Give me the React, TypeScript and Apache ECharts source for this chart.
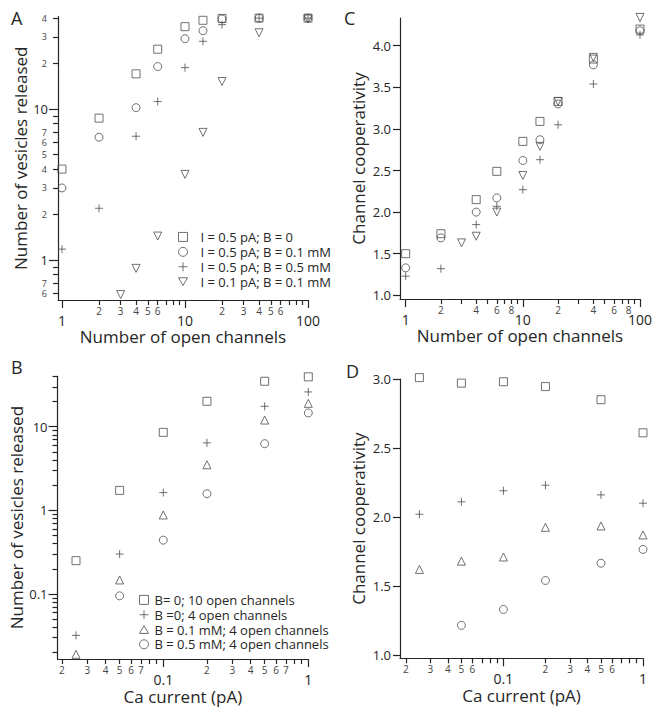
import React, { useEffect, useRef } from 'react';
import * as echarts from 'echarts';

// ---------- Panel A: vesicles released vs number of open channels ----------
const channels = [1, 2, 4, 6, 10, 14, 20, 40, 100];
const channelsTri = [3, 4, 6, 10, 14, 20, 40, 100];
const vesA_I05_B0 = [4.0, 8.7, 17.1, 24.9, 35.1, 38.7, 39.8, 40, 40];
const vesA_I05_B01 = [3.0, 6.5, 10.2, 19.1, 29.2, 33.0, 39.5, 40, 40];
const vesA_I05_B05 = [1.18, 2.2, 6.6, 11.2, 18.8, 28.1, 36.2, 40, 40];
const vesA_I01_B01 = [0.59, 0.88, 1.44, 3.69, 7.0, 15.2, 32.0, 39.5];

// ---------- Panel C: channel cooperativity vs number of open channels ----------
const coopC_I05_B0 = [1.5, 1.74, 2.15, 2.49, 2.85, 3.09, 3.33, 3.84, 4.2];
const coopC_I05_B01 = [1.33, 1.69, 2.0, 2.17, 2.62, 2.87, 3.3, 3.77, 4.18];
const coopC_I05_B05 = [1.23, 1.32, 1.85, 2.07, 2.27, 2.63, 3.05, 3.54, 4.13];
const coopC_I01_B01 = [1.63, 1.71, 2.0, 2.44, 2.79, 3.33, 3.86, 4.34];

// ---------- Panel B: vesicles released vs Ca current ----------
const caCurrent = [0.025, 0.05, 0.1, 0.2, 0.5, 1];
const caCurrentB05 = [0.05, 0.1, 0.2, 0.5, 1];
const vesB_B0_10ch = [0.25, 1.73, 8.55, 20.1, 34.9, 39.4];
const vesB_B0_4ch = [0.032, 0.3, 1.63, 6.4, 17.5, 26];
const vesB_B01_4ch = [0.019, 0.147, 0.88, 3.5, 12, 19];
const vesB_B05_4ch = [0.095, 0.44, 1.58, 6.26, 14.6];

// ---------- Panel D: channel cooperativity vs Ca current ----------
const coopD_B0_10ch = [3.01, 2.97, 2.98, 2.945, 2.85, 2.61];
const coopD_B0_4ch = [2.02, 2.11, 2.19, 2.23, 2.16, 2.1];
const coopD_B01_4ch = [1.62, 1.68, 1.71, 1.925, 1.935, 1.87];
const coopD_B05_4ch = [1.215, 1.33, 1.54, 1.665, 1.765];

// ---------- legends ----------
const namesTop = ['I = 0.5 pA; B = 0', 'I = 0.5 pA; B = 0.1 mM', 'I = 0.5 pA; B = 0.5 mM', 'I = 0.1 pA; B = 0.1 mM'];
const namesBottom = ['B= 0; 10 open channels', 'B =0; 4 open channels', 'B = 0.1 mM; 4 open channels', 'B = 0.5 mM; 4 open channels'];

// ---------- tick values ----------
const chMajor = [1, 10, 100];
const chMinorTicks = [2, 3, 4, 5, 6, 7, 8, 9, 20, 30, 40, 50, 60, 70, 80, 90];
const chMinorLabelsA = [2, 3, 4, 5, 6, 20, 30, 40, 50, 60];
const chMinorLabelsC = [2, 4, 6, 8, 20, 40, 60, 80];
const vesMajorA = [1, 10];
const vesMinorTicksA = [0.6, 0.7, 0.8, 0.9, 2, 3, 4, 5, 6, 7, 8, 9, 20, 30, 40];
const vesMinorLabelsA = [0.6, 0.7, 2, 3, 4, 5, 6, 7, 20, 30, 40];
const coopTicksC = [1.0, 1.5, 2.0, 2.5, 3.0, 3.5, 4.0];
const caMajor = [0.1, 1];
const caMinorTicks = [0.02, 0.03, 0.04, 0.05, 0.06, 0.07, 0.08, 0.09, 0.2, 0.3, 0.4, 0.5, 0.6, 0.7, 0.8, 0.9];
const caMinorLabelsB = [0.02, 0.03, 0.04, 0.05, 0.06, 0.07, 0.2, 0.3, 0.4, 0.5, 0.6, 0.7];
const caMinorLabelsD = [0.02, 0.03, 0.04, 0.05, 0.06, 0.2, 0.3, 0.4, 0.5, 0.6];
const vesMajorB = [0.1, 1, 10];
const vesMinorTicksB = [0.02, 0.03, 0.04, 0.05, 0.06, 0.07, 0.08, 0.09, 0.2, 0.3, 0.4, 0.5, 0.6, 0.7, 0.8, 0.9, 2, 3, 4, 5, 6, 7, 8, 9, 20, 30, 40];
const coopTicksD = [1.0, 1.5, 2.0, 2.5, 3.0];

const INK = '#262626';
const MARK = '#4d4d4d';
const FONT = '"Open Sans", "DejaVu Sans", sans-serif';
const axisLineStyle = { color: INK, width: 1.2 };
const nameStyle = { fontSize: 17, color: INK, fontFamily: FONT };

const SYM = {
  square: 'rect',
  circle: 'circle',
  plus: 'path://M5,0V10M0,5H10',
  down: 'path://M0,0L10,0L5,8.66Z',
  up: 'path://M5,0L10,8.66L0,8.66Z',
};

function majorFmt(v: number) {
  return String(Number(Number(v).toPrecision(6)));
}
function digitFmt(v: number) {
  const e = Math.floor(Math.log10(v) + 1e-9);
  return String(Math.round(v / Math.pow(10, e)));
}

function logX(gridIndex: number, min: number, max: number, major: number[], minorTicks: number[], minorLabels: number[], name: string, nameGap: number) {
  return [
    {
      type: 'log', logBase: 10, gridIndex, position: 'bottom', min, max,
      name, nameLocation: 'middle', nameGap, nameTextStyle: nameStyle,
      axisLine: { show: true, onZero: false, lineStyle: axisLineStyle },
      axisTick: { show: true, length: 8, customValues: major, lineStyle: axisLineStyle },
      axisLabel: { show: true, customValues: major, margin: 13, fontSize: 14, color: INK, fontFamily: FONT, formatter: majorFmt },
      splitLine: { show: false },
    },
    {
      type: 'log', logBase: 10, gridIndex, position: 'bottom', min, max,
      axisLine: { show: false },
      axisTick: { show: true, length: 5, customValues: minorTicks, lineStyle: axisLineStyle },
      axisLabel: { show: true, customValues: minorLabels, margin: 6, fontSize: 10, color: '#444', fontFamily: FONT, formatter: digitFmt },
      splitLine: { show: false },
    },
  ];
}

function logY(gridIndex: number, min: number, max: number, major: number[], minorTicks: number[], minorLabels: number[], name: string, nameGap: number) {
  return [
    {
      type: 'log', logBase: 10, gridIndex, position: 'left', min, max,
      name, nameLocation: 'middle', nameGap, nameTextStyle: nameStyle,
      axisLine: { show: true, onZero: false, lineStyle: axisLineStyle },
      axisTick: { show: true, length: 9, customValues: major, lineStyle: axisLineStyle },
      axisLabel: { show: true, customValues: major, margin: 10, fontSize: 13, color: INK, fontFamily: FONT, formatter: majorFmt },
      splitLine: { show: false },
    },
    {
      type: 'log', logBase: 10, gridIndex, position: 'left', min, max,
      axisLine: { show: false },
      axisTick: { show: true, length: 5, customValues: minorTicks, lineStyle: axisLineStyle },
      axisLabel: { show: true, customValues: minorLabels, margin: 11, fontSize: 9, color: '#444', fontFamily: FONT, formatter: digitFmt },
      splitLine: { show: false },
    },
  ];
}

function valY(gridIndex: number, min: number, max: number, ticks: number[], name: string, nameGap: number) {
  return {
    type: 'value', gridIndex, position: 'left', min, max,
    name, nameLocation: 'middle', nameGap, nameTextStyle: nameStyle,
    axisLine: { show: true, onZero: false, lineStyle: axisLineStyle },
    axisTick: { show: true, length: 7, customValues: ticks, lineStyle: axisLineStyle },
    axisLabel: { show: true, customValues: ticks, margin: 9, fontSize: 13, color: INK, fontFamily: FONT, formatter: (v: number) => Number(v).toFixed(1) },
    splitLine: { show: false },
  };
}

function sc(name: string, xs: number[], ys: number[], symbol: string, xi: number, yi: number, size = 8) {
  return {
    type: 'scatter', name, xAxisIndex: xi, yAxisIndex: yi,
    data: xs.map((x, i) => [x, ys[i]]),
    symbol, symbolSize: size, clip: false, silent: true,
    itemStyle: { color: 'none', borderColor: MARK, borderWidth: 1 },
    emphasis: { disabled: true },
  };
}

export default function App() {
  const ref = useRef<HTMLDivElement>(null);
  useEffect(() => {
    if (!ref.current) return;
    const chart = echarts.init(ref.current, null, { renderer: 'svg' });
    const xAxes = [
      ...logX(0, 0.928, 100, chMajor, chMinorTicks, chMinorLabelsA, 'Number of open channels', 26),
      ...logX(1, 0.895, 100, chMajor, chMinorTicks, chMinorLabelsC, 'Number of open channels', 27),
      ...logX(2, 0.01864, 1, caMajor, caMinorTicks, caMinorLabelsB, 'Ca current (pA)', 29),
      ...logX(3, 0.01815, 1, caMajor, caMinorTicks, caMinorLabelsD, 'Ca current (pA)', 28.5),
    ];
    const yAxes = [
      ...logY(0, 0.543, 41, vesMajorA, vesMinorTicksA, vesMinorLabelsA, 'Number of vesicles released', 26),
      valY(1, 0.9555, 4.333, coopTicksC, 'Channel cooperativity', 33),
      ...logY(2, 0.0167, 40, vesMajorB, vesMinorTicksB, [], 'Number of vesicles released', 26),
      valY(3, 0.976, 3.0, coopTicksD, 'Channel cooperativity', 33),
    ];
    const legendCommon = {
      orient: 'vertical', itemWidth: 9, itemHeight: 9, itemGap: 0, selectedMode: false,
      padding: 0,
      itemStyle: { borderWidth: 1 },
    };
    chart.setOption({
      animation: false,
      textStyle: { fontFamily: FONT },
      grid: [
        { left: 58, top: 16.5, width: 250, height: 283.5 },
        { left: 400, top: 18, width: 243.3, height: 281 },
        { left: 57.5, top: 376.3, width: 250.8, height: 282.7 },
        { left: 400, top: 379, width: 243, height: 279.3 },
      ],
      xAxis: xAxes,
      yAxis: yAxes,
      legend: [
        { ...legendCommon, data: namesTop, left: 176, top: 229.5, textStyle: { fontSize: 13, lineHeight: 14.9, color: INK, fontFamily: FONT, padding: [0, 0, 0, 8] } },
        { ...legendCommon, data: namesBottom, left: 137, top: 592.5, textStyle: { fontSize: 13, lineHeight: 14.8, color: INK, fontFamily: FONT, padding: [0, 0, 0, 1] } },
      ],
      graphic: [
        { type: 'text', x: 11, y: 18, style: { text: 'A', fontSize: 18, fill: INK, fontFamily: FONT, verticalAlign: 'middle' } },
        { type: 'text', x: 344, y: 18, style: { text: 'C', fontSize: 18, fill: INK, fontFamily: FONT, verticalAlign: 'middle' } },
        { type: 'text', x: 11, y: 367, style: { text: 'B', fontSize: 18, fill: INK, fontFamily: FONT, verticalAlign: 'middle' } },
        { type: 'text', x: 346, y: 371, style: { text: 'D', fontSize: 18, fill: INK, fontFamily: FONT, verticalAlign: 'middle' } },
      ],
      series: [
        // A
        sc(namesTop[0], channels, vesA_I05_B0, SYM.square, 0, 0),
        sc(namesTop[1], channels, vesA_I05_B01, SYM.circle, 0, 0),
        sc(namesTop[2], channels, vesA_I05_B05, SYM.plus, 0, 0),
        sc(namesTop[3], channelsTri, vesA_I01_B01, SYM.down, 0, 0),
        // C
        sc(namesTop[0], channels, coopC_I05_B0, SYM.square, 2, 2),
        sc(namesTop[1], channels, coopC_I05_B01, SYM.circle, 2, 2),
        sc(namesTop[2], channels, coopC_I05_B05, SYM.plus, 2, 2),
        sc(namesTop[3], channelsTri, coopC_I01_B01, SYM.down, 2, 2),
        // B
        sc(namesBottom[0], caCurrent, vesB_B0_10ch, SYM.square, 4, 3),
        sc(namesBottom[1], caCurrent, vesB_B0_4ch, SYM.plus, 4, 3),
        sc(namesBottom[2], caCurrent, vesB_B01_4ch, SYM.up, 4, 3),
        sc(namesBottom[3], caCurrentB05, vesB_B05_4ch, SYM.circle, 4, 3),
        // D
        sc(namesBottom[0], caCurrent, coopD_B0_10ch, SYM.square, 6, 5),
        sc(namesBottom[1], caCurrent, coopD_B0_4ch, SYM.plus, 6, 5),
        sc(namesBottom[2], caCurrent, coopD_B01_4ch, SYM.up, 6, 5),
        sc(namesBottom[3], caCurrentB05, coopD_B05_4ch, SYM.circle, 6, 5),
      ],
    });
    return () => chart.dispose();
  }, []);
  return <div ref={ref} style={{ position: 'absolute', left: 0, top: 0, width: 655, height: 707, background: '#fff' }} />;
}
